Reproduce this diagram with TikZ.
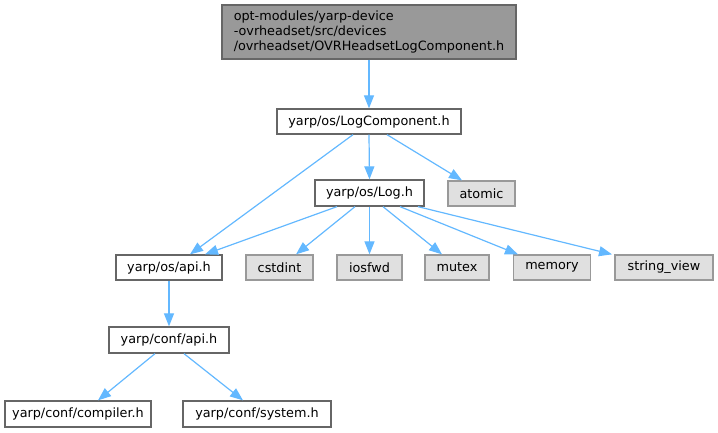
\documentclass[tikz,border=0pt]{standalone}
\usepackage{fontspec}
\setmainfont{DejaVu Sans}
\usetikzlibrary{arrows.meta}
\definecolor{edgeblue}{HTML}{63B8FF}
\definecolor{darkborder}{HTML}{666666}
\definecolor{lightborder}{HTML}{999999}
\definecolor{sysfill}{HTML}{E0E0E0}
\definecolor{topfill}{HTML}{999999}
\begin{document}
\begin{tikzpicture}[x=1pt,y=-1pt,
  box/.style={draw=darkborder,fill=white,line width=1.3pt,rectangle,inner sep=0pt,
    minimum height=25pt,font=\fontsize{12.8}{15}\selectfont},
  sysbox/.style={box,draw=lightborder,fill=sysfill},
  topbox/.style={box,fill=topfill,align=left},
  edge/.style={draw=edgeblue,line width=1.2pt,-{Triangle[length=13pt,width=10pt]}}]
\useasboundingbox (0,0) rectangle (718,432);
\node[topbox,minimum width=294pt,minimum height=54pt] (top) at (369,32)
  {opt-modules/yarp-device\\-ovrheadset/src/devices\\/ovrheadset/OVRHeadsetLogComponent.h};
\node[box,minimum width=184pt] (lc) at (369,121.5) {yarp/os/LogComponent.h};
\node[box,minimum width=109pt,minimum height=26pt] (log) at (369.5,193) {yarp/os/Log.h};
\node[sysbox,minimum width=67pt] (atomic) at (481.5,193.5) {atomic};
\node[box,minimum width=106pt] (osapi) at (169,267.5) {yarp/os/api.h};
\node[sysbox,minimum width=67pt] (cstdint) at (279.5,267.5) {cstdint};
\node[sysbox,minimum width=65pt] (iosfwd) at (369.5,267.5) {iosfwd};
\node[sysbox,minimum width=64pt] (mutex) at (457,267.5) {mutex};
\node[sysbox,minimum width=77pt] (memory) at (552,267.5) {memory};
\node[sysbox,minimum width=98pt] (sv) at (664,267.5) {string\_view};
\node[box,minimum width=120pt,minimum height=26pt] (confapi) at (169,340) {yarp/conf/api.h};
\node[box,minimum width=146pt,minimum height=26pt] (compiler) at (78,414) {yarp/conf/compiler.h};
\node[box,minimum width=148pt,minimum height=26pt] (system) at (257,414) {yarp/conf/system.h};

\draw[edge] (top.south) -- (lc.north);
\draw[edge] ([xshift=-16pt]lc.south) -- ([xshift=21pt]osapi.north);
\draw[edge] (lc.south) -- (log.north);
\draw[edge] ([xshift=18pt]lc.south) -- ([xshift=-19.5pt]atomic.north);
\draw[edge] ([xshift=-32.5pt]log.south) -- ([xshift=36pt]osapi.north);
\draw[edge] ([xshift=-14.5pt]log.south) -- ([xshift=16.5pt]cstdint.north);
\draw[edge] (log.south) -- (iosfwd.north);
\draw[edge] ([xshift=13.5pt]log.south) -- ([xshift=-15pt]mutex.north);
\draw[edge] ([xshift=30.5pt]log.south) -- ([xshift=-34pt]memory.north);
\draw[edge] ([xshift=48.5pt]log.south) -- ([xshift=-52pt]sv.north);
\draw[edge] (osapi.south) -- (confapi.north);
\draw[edge] ([xshift=-14pt]confapi.south) -- ([xshift=20pt]compiler.north);
\draw[edge] ([xshift=15pt]confapi.south) -- ([xshift=-14pt]system.north);
\end{tikzpicture}
\end{document}
